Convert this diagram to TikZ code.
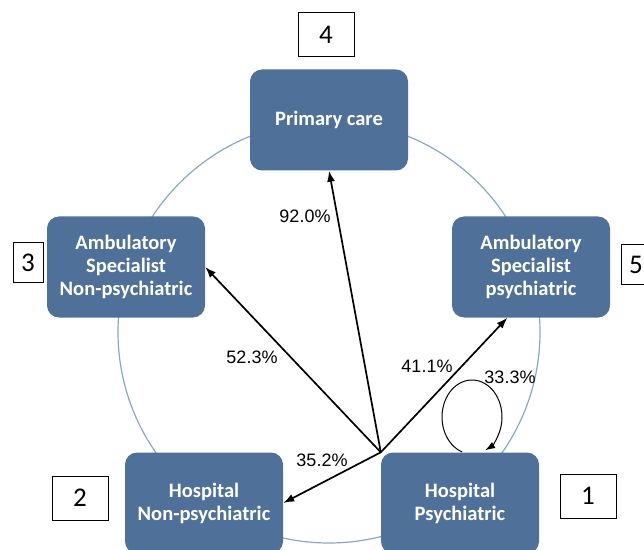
\documentclass[tikz,border=0pt]{standalone}
\usepackage{fontspec}
\setmainfont{Carlito}
\newfontfamily\pctfont{Liberation Sans}
\usetikzlibrary{arrows.meta}
\definecolor{boxblue}{RGB}{79,112,153}
\definecolor{ringblue}{RGB}{140,165,200}

\begin{document}
\begin{tikzpicture}[x=1pt,y=1pt,
		carenode/.style={rectangle,rounded corners=12pt,fill=boxblue,text=white,minimum width=158pt,minimum height=101pt,align=center,font=\bfseries\fontsize{20.5}{23}\selectfont,inner sep=2pt},
		numnode/.style={rectangle,draw,line width=1pt,minimum width=56pt,minimum height=44pt,font=\fontsize{27}{27}\selectfont,inner sep=0pt},
		smallnum/.style={numnode,minimum width=30pt,minimum height=40pt},
		pct/.style={font=\pctfont\fontsize{18}{18}\selectfont,inner sep=1pt},
		flow/.style={-{Latex[length=11pt,width=8pt]},line width=1.7pt},
		ring/.style={draw=ringblue,line width=1.2pt}
		]
		\useasboundingbox (0,0) rectangle (644,549);
		\draw[ring] (329,217) circle (211);
		% care settings
		\node (a) [carenode] at (329,429) {Primary care};
		\node (b) [carenode] at (126,282) {Ambulatory\\Specialist\\Non-psychiatric};
		\node (c) [carenode] at (531,282) {Ambulatory\\Specialist\\psychiatric};
		\node (d) [carenode] at (204,46) {Hospital\\Non-psychiatric};
		\node (e) [carenode] at (460,46) {Hospital\\Psychiatric};
		% numbers
		\node (n1) [numnode] at (588,53) {1};
		\node (n2) [numnode] at (80,51) {2};
		\node (n3) [smallnum] at (28,286) {3};
		\node (n4) [numnode] at (326,514) {4};
		\node (n5) [smallnum] at (636,284) {5};
		% transitions
		\coordinate (hub) at (e.north west);
		\draw[flow] (hub) -- (a.south);
		\draw[flow] (hub) -- (b.east);
		\draw[flow] (hub) -- (c.245);
		\draw[flow] (hub) -- (d.east);
		\coordinate (loop) at (472,132);
		\draw[-{Latex[length=10pt,width=7pt]},line width=1pt] (loop) ++(251:30 and 37) arc[start angle=251,end angle=-64,x radius=30,y radius=37];
		\node (p4) [pct] at (305,333) {92.0\%};
		\node (p3) [pct] at (252,192) {52.3\%};
		\node (p5) [pct] at (427,183) {41.1\%};
		\node (p1) [pct] at (510,172) {33.3\%};
		\node (p2) [pct] at (322,89) {35.2\%};
		\end{tikzpicture}
\end{document}
